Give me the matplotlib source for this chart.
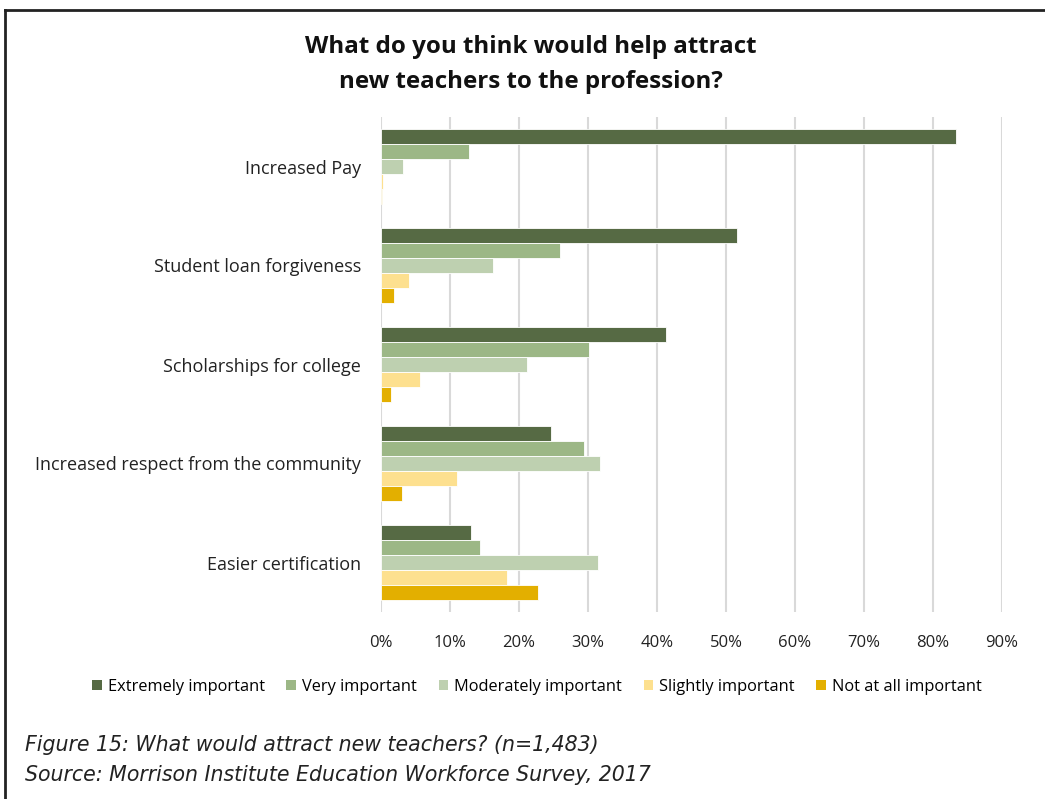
import matplotlib
matplotlib.use("Agg")
import matplotlib.pyplot as plt
from matplotlib.patches import Patch
from matplotlib.lines import Line2D
import numpy as np

categories = ["Increased Pay", "Student loan forgiveness", "Scholarships for college",
              "Increased respect from the community", "Easier certification"]
series_names = ["Extremely important", "Very important", "Moderately important",
                "Slightly important", "Not at all important"]
extremely = [83.4, 51.6, 41.3, 24.6, 13.0]
very = [12.8, 26.0, 30.2, 29.4, 14.4]
moderately = [3.2, 16.2, 21.2, 31.8, 31.4]
slightly = [0.3, 4.1, 5.6, 11.0, 18.3]
not_at_all = [0.1, 1.9, 1.5, 3.0, 22.7]
xticks = [0, 10, 20, 30, 40, 50, 60, 70, 80, 90]
xticklabels = ["0%", "10%", "20%", "30%", "40%", "50%", "60%", "70%", "80%", "90%"]

series = [extremely, very, moderately, slightly, not_at_all]
colors = ["#566A44", "#9CB786", "#BED0B0", "#FDE08F", "#E3AF00"]

FONT = "Open Sans"
W, H = 1045, 799
fig = plt.figure(figsize=(W / 100, H / 100), dpi=100)
fig.patch.set_facecolor("white")

ax = fig.add_axes([381 / W, 1 - 612 / H, (1002 - 381) / W, (612 - 117) / H])
bh = 0.151
ypos = np.arange(len(categories))
for j, (vals, col, name) in enumerate(zip(series, colors, series_names)):
    ax.barh(ypos + (j - 2) * bh, vals, height=bh, color=col, edgecolor="white",
            linewidth=0.6, label=name, zorder=3)

ax.set_xlim(0, 90)
ax.set_ylim(len(categories) - 0.5, -0.5)
ax.set_xticks(xticks)
ax.set_xticklabels(xticklabels, fontsize=12, family=FONT, color="#222222")
ax.set_yticks(ypos)
ax.set_yticklabels(categories, fontsize=13, family=FONT, color="#222222")
ax.tick_params(axis="both", length=0)
ax.tick_params(axis="y", pad=14.5)
ax.tick_params(axis="x", pad=16.5)
ax.grid(axis="x", color="#D9D9D9", linewidth=1.5, zorder=0)
for s in ax.spines.values():
    s.set_visible(False)

handles = [Patch(facecolor=c, edgecolor="none") for c in colors]
leg = fig.legend(handles, series_names, loc="center", bbox_to_anchor=(537 / W, 1 - 687 / H),
                 ncol=5, frameon=False, prop={"family": FONT, "size": 11.8},
                 handlelength=0.6, handleheight=0.6, handletextpad=0.35, columnspacing=1.32)

fig.text(531 / W, 1 - 47 / H, "What do you think would help attract", ha="center", va="center",
         fontsize=17.4, fontweight="bold", family=FONT, color="#111111")
fig.text(531 / W, 1 - 82 / H, "new teachers to the profession?", ha="center", va="center",
         fontsize=17.4, fontweight="bold", family=FONT, color="#111111")

fig.text(25 / W, 1 - 745 / H, "Figure 15: What would attract new teachers? (n=1,483)", ha="left",
         va="center", fontsize=14.8, style="italic", family="DejaVu Sans", color="#222222")
fig.text(25 / W, 1 - 775 / H, "Source: Morrison Institute Education Workforce Survey, 2017", ha="left",
         va="center", fontsize=14.8, style="italic", family="DejaVu Sans", color="#222222")

# frame lines
fig.add_artist(Line2D([5 / W, 5 / W], [0, 1 - 10 / H], transform=fig.transFigure,
                      color="#222222", linewidth=2))
fig.add_artist(Line2D([5 / W, 1], [1 - 10 / H, 1 - 10 / H], transform=fig.transFigure,
                      color="#222222", linewidth=2))

fig.savefig("out.png", dpi=100)
